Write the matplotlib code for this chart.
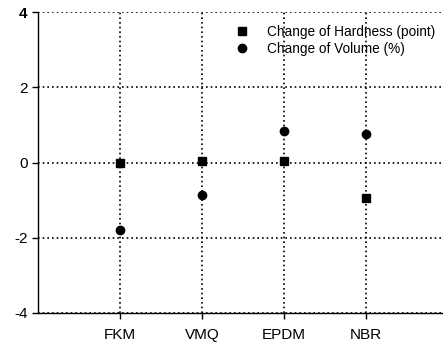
import numpy as np
import matplotlib.pyplot as plt

plt.rcParams['font.family'] = ['Liberation Sans', 'DejaVu Sans']

# data
materials = ['FKM', 'VMQ', 'EPDM', 'NBR']
hardness = [0.0, 0.03, 0.03, -0.95]
volume = [-1.8, -0.87, 0.83, 0.75]
yticks = [-4, -2, 0, 2, 4]

x = np.arange(1, len(materials) + 1)

fig = plt.figure(figsize=(4.43, 3.45), dpi=100)
ax = fig.add_axes([38 / 443, 32 / 345, 1 - 38 / 443, 301 / 345])

ax.plot(x, hardness, 's', color='black', markersize=5.5, label='Change of Hardness (point)', zorder=3)
ax.plot(x, volume, 'o', color='black', markersize=6, label='Change of Volume (%)', zorder=3)

ax.set_xlim(0, 4.94)
ax.set_ylim(-4, 4)
ax.set_xticks(x)
ax.set_xticklabels(materials, fontsize=11)
ax.set_yticks(yticks)
ax.set_yticklabels([str(v) for v in yticks], fontsize=11)
ax.get_yticklabels()[-1].set_fontweight('bold')
ax.grid(True, linestyle=(0, (1, 1.8)), color='black', linewidth=1.2)

for side in ['top', 'right']:
    ax.spines[side].set_visible(False)
ax.spines['left'].set_linewidth(1.0)
ax.spines['bottom'].set_linewidth(1.0)
ax.tick_params(direction='out', length=4, width=1, colors='black')
ax.tick_params(axis='x', pad=7)

ax.legend(loc='upper right', frameon=False, fontsize=9.8, handletextpad=1.3,
          borderaxespad=0.2, labelspacing=0.25, handlelength=1.0,
          bbox_to_anchor=(1.0, 0.985))

fig.savefig('out.png', dpi=100)
